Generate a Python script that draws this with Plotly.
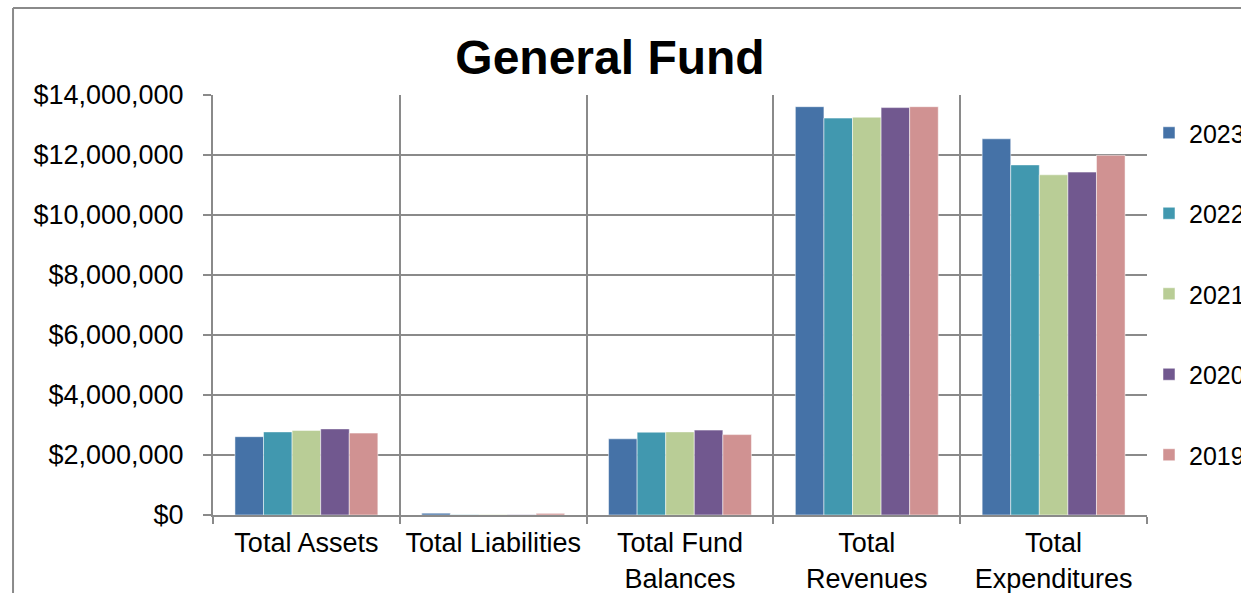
import plotly.graph_objects as go

categories = ["Total Assets", "Total Liabilities", "Total Fund<br>Balances", "Total<br>Revenues", "Total<br>Expenditures"]
years = ["2023", "2022", "2021", "2020", "2019"]
values_2023 = [2610000, 60000, 2540000, 13610000, 12540000]
values_2022 = [2770000, 10000, 2760000, 13230000, 11670000]
values_2021 = [2820000, 15000, 2770000, 13260000, 11340000]
values_2020 = [2870000, 10000, 2830000, 13580000, 11430000]
values_2019 = [2730000, 55000, 2680000, 13610000, 11990000]
colors = ["#4572A7", "#4198AF", "#B9CD96", "#71588F", "#D09292"]

series = [values_2023, values_2022, values_2021, values_2020, values_2019]

fig = go.Figure()
for i, (yr, vals) in enumerate(zip(years, series)):
    fig.add_trace(go.Bar(
        x=categories, y=vals, name=yr, legendgroup=yr,
        marker=dict(color=colors[i], line=dict(color="rgba(255,255,255,0.5)", width=1)),
    ))

grid = "#8a8a8a"
fig.update_layout(
    width=1241, height=593,
    margin=dict(l=213, r=94, t=95, b=78, autoexpand=False),
    paper_bgcolor="white", plot_bgcolor="white",
    barmode="group", bargap=0.235, bargroupgap=0,
    font=dict(family="Liberation Sans, Arial, sans-serif", size=24, color="black"),
    title=dict(text="<b>General Fund</b>", x=610/1241, xanchor="center", xref="container",
               y=1 - 57/593, yanchor="middle", yref="container",
               font=dict(size=48, color="black")),
    legend=dict(xref="container", yref="container", x=1149/1241, xanchor="left",
                y=1 - 110/593, yanchor="top", traceorder="grouped", maxheight=560,
                tracegroupgap=45, font=dict(size=25), itemwidth=30, bgcolor="rgba(0,0,0,0)"),
    showlegend=True,
)
fig.update_xaxes(
    type="category", tickson="boundaries", showgrid=True, gridcolor=grid, gridwidth=2,
    showline=True, linecolor=grid, linewidth=2, ticks="outside", ticklen=7, tickcolor=grid, tickwidth=2,
    tickfont=dict(size=27), ticklabelstandoff=3,
)
fig.update_yaxes(
    range=[0, 14000000], dtick=2000000, tickprefix="$", tickformat=",d",
    showgrid=True, gridcolor=grid, gridwidth=2, zeroline=False,
    showline=True, linecolor=grid, linewidth=2, ticks="outside", ticklen=8, tickcolor=grid, tickwidth=2,
    ticklabelstandoff=14, tickfont=dict(size=27),
)
# outer chart-area border
fig.add_shape(type="line", xref="paper", yref="paper", x0=-0.2141, x1=1.2, y0=1.2071, y1=1.2071,
              line=dict(color="#8a8a8a", width=2))
fig.add_shape(type="line", xref="paper", yref="paper", x0=-0.2141, x1=-0.2141, y0=1.2071, y1=-0.25,
              line=dict(color="#8a8a8a", width=2))

fig.write_html("out.html", config={"displayModeBar": False},
               post_script="document.body.style.margin='0';")
